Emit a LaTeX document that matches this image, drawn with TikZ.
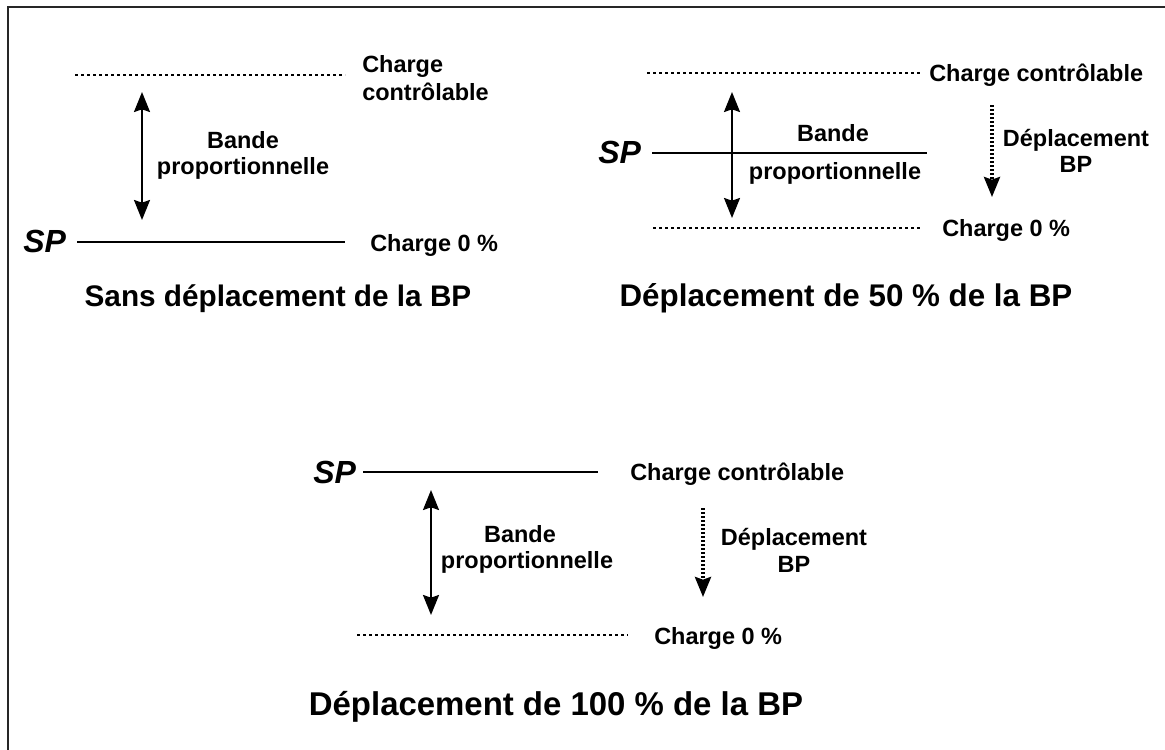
\documentclass[tikz,border=0pt]{standalone}
\usepackage{fontspec}
\setmainfont{Liberation Sans}
\usetikzlibrary{arrows.meta}
\begin{document}
\begin{tikzpicture}[x=0.75pt,y=-0.75pt,
  lbl/.style={font=\fontsize{17.6}{21}\selectfont\bfseries, inner sep=0pt},
  ttl/.style={font=\fontsize{22.3}{26}\selectfont\bfseries, inner sep=0pt},
  sptxt/.style={font=\fontsize{24}{28}\selectfont\bfseries\itshape, inner sep=0pt},
  solidline/.style={line width=1.5pt},
  dotline/.style={line width=2.1pt, dash pattern=on 2.1pt off 2.4pt},
  dbl/.style={line width=1.5pt, {Stealth[width=12pt,length=15pt,inset=2pt]}-{Stealth[width=12pt,length=15pt,inset=2pt]}},
  shiftarrow/.style={line width=2.5pt, dash pattern=on 1.6pt off 1.4pt, -{Stealth[width=12pt,length=15pt,inset=2pt]}},
  frame/.style={line width=1.5pt, draw=black!85}
]
\useasboundingbox (0,0) rectangle (1165,750);
% frame
\coordinate (fr1) at (1165,7);
\coordinate (fr2) at (8,7);
\coordinate (fr3) at (8,750);
\draw[frame] (fr1) -- (fr2) -- (fr3);

% ---------- Panel 1 ----------
\coordinate (a1) at (75,75);  \coordinate (a2) at (345,75);
\draw[dotline] (a1) -- (a2);
\coordinate (b1) at (77,242); \coordinate (b2) at (345,242);
\draw[solidline] (b1) -- (b2);
\coordinate (c1) at (142,92); \coordinate (c2) at (142,220);
\draw[dbl] (c1) -- (c2);
\node[lbl, anchor=base west] (p1cc1) at (362,72) {Charge};
\node[lbl, anchor=base west] (p1cc2) at (362,100) {contrôlable};
\node[lbl, anchor=base] (p1bp1) at (243,148) {Bande};
\node[lbl, anchor=base] (p1bp2) at (243,174) {proportionnelle};
\node[sptxt, anchor=base west] (p1sp) at (23,252) {SP};
\node[lbl, anchor=base west] (p1c0) at (370,251) {Charge 0 \%};
\node[ttl, anchor=base] (p1t) at (278,306) {Sans déplacement de la BP};

% ---------- Panel 2 ----------
\coordinate (d1) at (647,73); \coordinate (d2) at (920,73);
\draw[dotline] (d1) -- (d2);
\coordinate (e1) at (653,228); \coordinate (e2) at (920,228);
\draw[dotline] (e1) -- (e2);
\coordinate (f1) at (652,153); \coordinate (f2) at (927,153);
\draw[solidline] (f1) -- (f2);
\coordinate (g1) at (732,92); \coordinate (g2) at (732,218);
\draw[dbl] (g1) -- (g2);
\coordinate (h1) at (992,105); \coordinate (h2) at (992,197);
\draw[shiftarrow] (h1) -- (h2);
\node[sptxt, anchor=base west] (p2sp) at (598,163) {SP};
\node[lbl, anchor=base] (p2bp1) at (833,141) {Bande};
\node[lbl, anchor=base] (p2bp2) at (835,179) {proportionnelle};
\node[lbl, anchor=base west] (p2cc) at (929,81) {Charge contrôlable};
\node[lbl, anchor=base] (p2d1) at (1076,146) {Déplacement};
\node[lbl, anchor=base] (p2d2) at (1076,172) {BP};
\node[lbl, anchor=base west] (p2c0) at (942,236) {Charge 0 \%};
\node[ttl, anchor=base, font=\fontsize{23.5}{27}\selectfont\bfseries] (p2t) at (846,306) {Déplacement de 50 \% de la BP};

% ---------- Panel 3 ----------
\coordinate (i1) at (363,472); \coordinate (i2) at (598,472);
\draw[solidline] (i1) -- (i2);
\coordinate (j1) at (357,635); \coordinate (j2) at (628,635);
\draw[dotline] (j1) -- (j2);
\coordinate (k1) at (431,490); \coordinate (k2) at (431,615);
\draw[dbl] (k1) -- (k2);
\coordinate (l1) at (703,508); \coordinate (l2) at (703,597);
\draw[shiftarrow] (l1) -- (l2);
\node[sptxt, anchor=base west] (p3sp) at (313,483) {SP};
\node[lbl, anchor=base west] (p3cc) at (630,480) {Charge contrôlable};
\node[lbl, anchor=base] (p3bp1) at (520,542) {Bande};
\node[lbl, anchor=base] (p3bp2) at (527,568) {proportionnelle};
\node[lbl, anchor=base] (p3d1) at (794,545) {Déplacement};
\node[lbl, anchor=base] (p3d2) at (794,572) {BP};
\node[lbl, anchor=base west] (p3c0) at (654,644) {Charge 0 \%};
\node[ttl, anchor=base, font=\fontsize{24.7}{29}\selectfont\bfseries] (p3t) at (556,715) {Déplacement de 100 \% de la BP};
\end{tikzpicture}
\end{document}
